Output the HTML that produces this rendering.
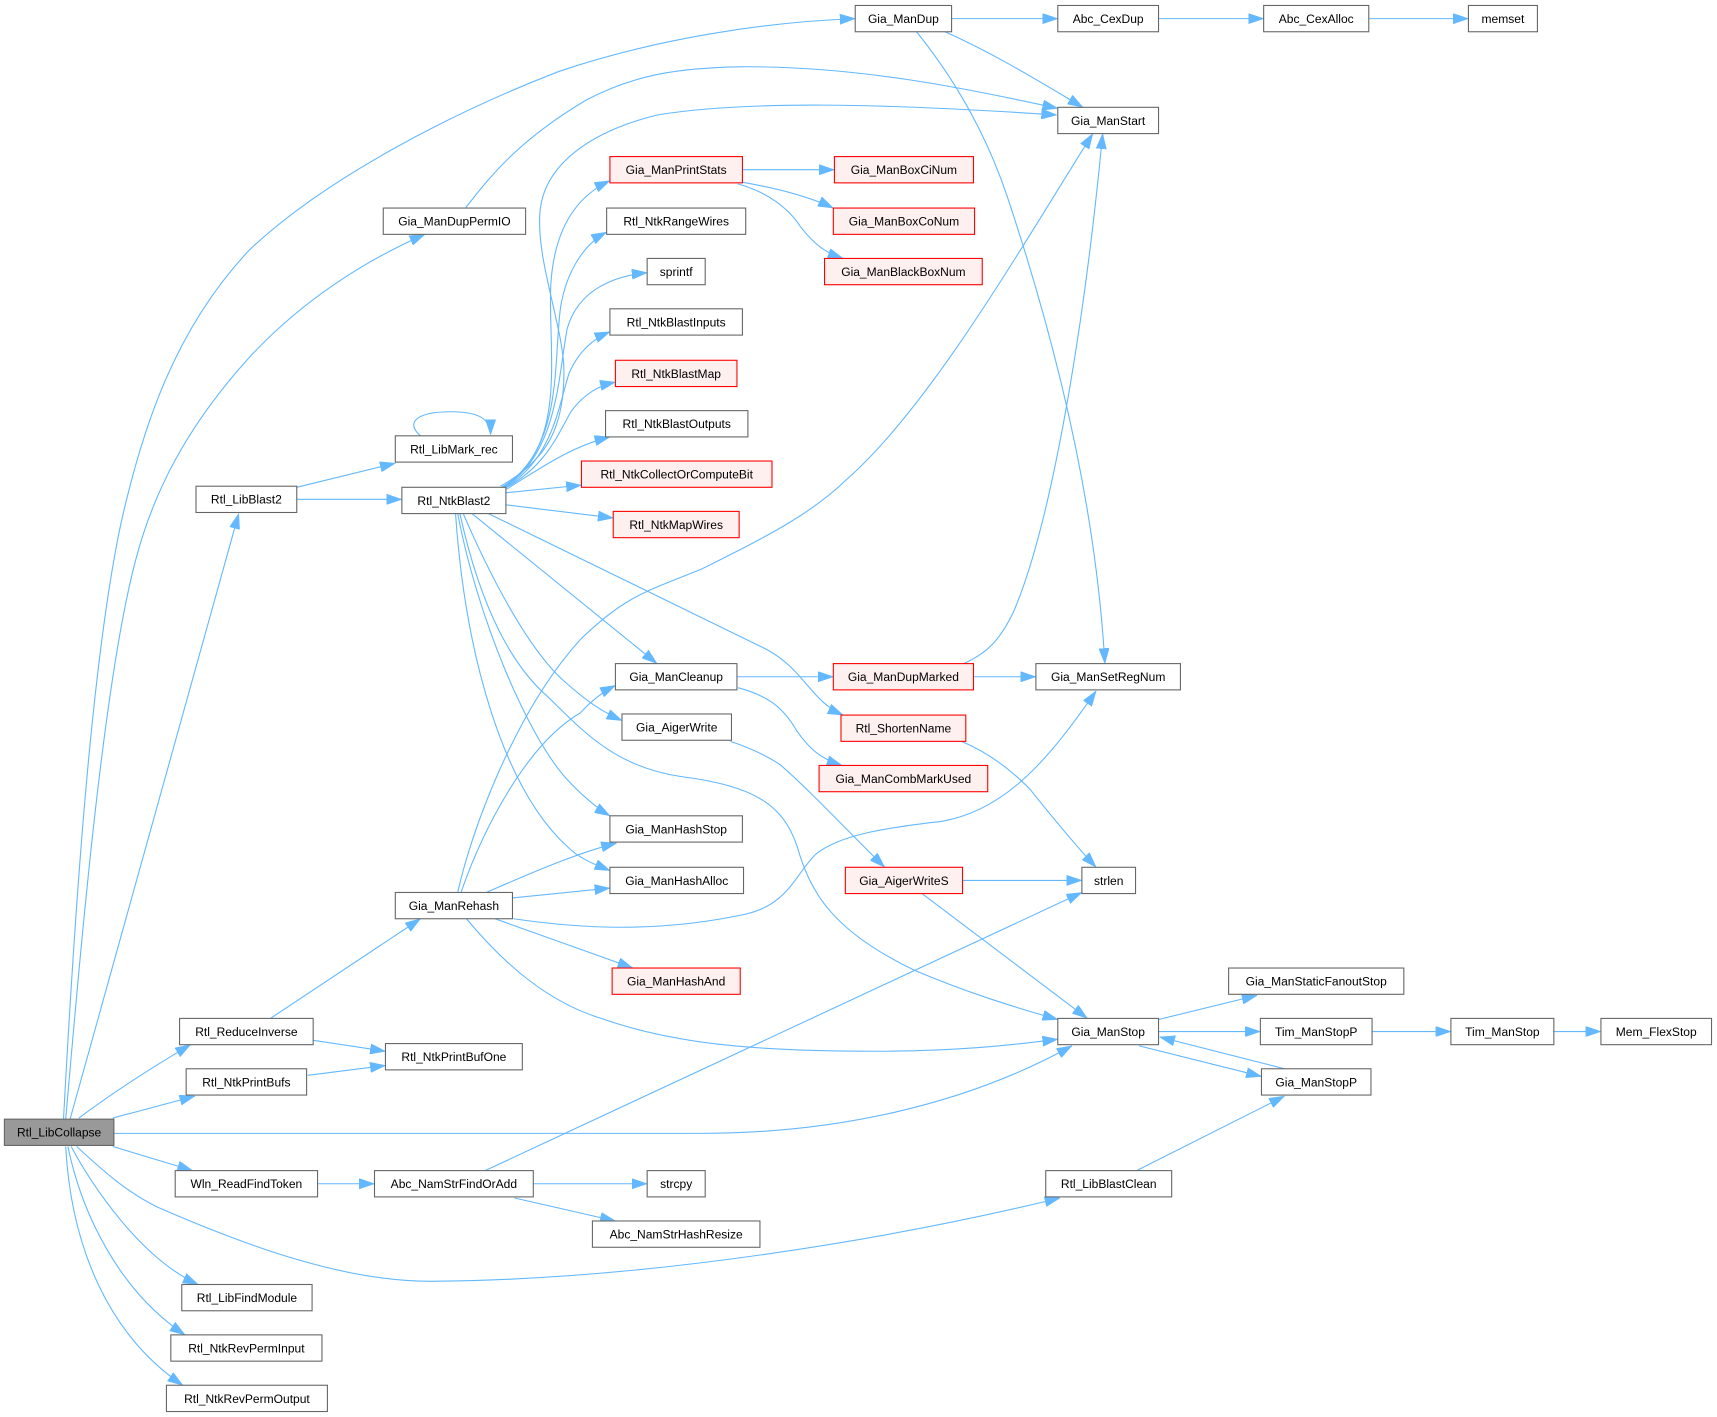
<!DOCTYPE html>
<html>
<head>
<meta charset="utf-8">
<style>
html,body{margin:0;padding:0;background:#fff;}
svg{display:block;}
text{font-family:"Liberation Sans",Arial,sans-serif;font-size:11px;fill:#000;text-anchor:middle;}
.n{fill:#fff;stroke:#666;stroke-width:1;}
.r{fill:#fff0f0;stroke:#ff0000;stroke-width:1;}
.g{fill:#999;stroke:#666;stroke-width:1;}
.e{fill:none;stroke:#63b8ff;stroke-width:1;marker-end:url(#ah);}
</style>
</head>
<body>
<svg width="1717" height="1417" viewBox="0 0 1568 1294" preserveAspectRatio="none" xmlns="http://www.w3.org/2000/svg">
<defs>
<marker id="ah" viewBox="0 0 14 9.5" refX="14" refY="4.75" markerWidth="14" markerHeight="9.5" markerUnits="userSpaceOnUse" orient="auto">
<path d="M0,0 L14,4.75 L0,9.5 Z" fill="#63b8ff" stroke="#63b8ff" stroke-width="0.5"/>
</marker>
</defs>

<!-- edges -->
<g>
<!-- from Rtl_LibCollapse -->
<path class="e" d="M58,1022 C70,800 85,600 110,480 C130,390 160,300 228,228 C300,160 420,100 511,65 C600,35 700,20 781,17"/>
<path class="e" d="M60,1022 C75,850 95,620 124,511 C140,450 170,390 228,326 C280,270 340,235 388,214"/>
<path class="e" d="M64,1022 L218,469"/>
<path class="e" d="M72,1021 C100,1000 130,980 174,954"/>
<path class="e" d="M103,1021 L178,1001"/>
<path class="e" d="M104,1035 L640,1035 C760,1035 880,1010 979,955"/>
<path class="e" d="M103,1047 L176,1069"/>
<path class="e" d="M70,1047 C95,1070 115,1088 143,1102 C230,1140 320,1172 400,1170 C600,1168 820,1130 968,1094"/>
<path class="e" d="M65,1047 C85,1085 130,1150 181,1173"/>
<path class="e" d="M62,1047 C75,1110 110,1180 169,1219"/>
<path class="e" d="M60,1047 C65,1140 100,1220 167,1265"/>

<!-- Rtl_LibBlast2 -->
<path class="e" d="M271,445 L361,423"/>
<path class="e" d="M271,456 L367,456"/>
<!-- self loop -->
<path class="e" d="M384,398 C370,386 380,376 412,376 C436,376 448,382 448,397"/>

<!-- Rtl_NtkBlast2 fan -->
<path class="e" d="M457,444 C500,420 515,390 515,340 C515,300 490,240 493,195 C496,150 540,120 600,105 C680,92 800,94 965,105"/>
<path class="e" d="M458,445 C520,410 500,320 503,260 C506,210 525,180 557,165"/>
<path class="e" d="M459,445 C515,410 505,330 512,280 C518,245 535,222 554,212"/>
<path class="e" d="M460,445 C510,415 510,340 518,300 C528,265 560,252 591,249"/>
<path class="e" d="M460,446 C505,420 510,370 520,340 C530,318 545,308 557,303"/>
<path class="e" d="M461,446 C500,425 510,395 522,375 C535,358 548,352 562,349"/>
<path class="e" d="M462,447 C490,430 520,408 557,399"/>
<path class="e" d="M462,450 L531,443"/>
<path class="e" d="M462,461 L560,473"/>
<path class="e" d="M431,469 L600,606"/>
<path class="e" d="M446,469 L700,593 C735,612 740,640 770,653"/>
<path class="e" d="M423,469 C445,520 480,590 514,621 C535,640 550,650 568,658"/>
<path class="e" d="M418,469 C435,560 480,670 518,712 C530,725 545,738 557,745"/>
<path class="e" d="M416,469 C425,600 460,720 518,773 C530,785 545,790 557,795"/>
<path class="e" d="M420,469 C440,560 470,610 500,636 C530,665 560,700 621,709 C690,718 715,735 728,773 C740,815 760,850 835,886 C880,905 920,918 966,931"/>

<!-- Gia_ManDupPermIO -> Gia_ManStart -->
<path class="e" d="M425,190 C445,165 470,130 536,91 C580,68 620,62 676,61 C780,60 880,80 966,99"/>

<!-- Gia_ManRehash -->
<path class="e" d="M418,815 C430,760 470,650 530,584 C570,545 590,540 640,520 C700,490 740,470 773,438 C850,370 930,230 998,122"/>
<path class="e" d="M421,815 C440,760 480,680 530,651 C540,640 550,632 562,626"/>
<path class="e" d="M444,815 C490,795 530,778 563,770"/>
<path class="e" d="M468,820 L557,811"/>
<path class="e" d="M452,839 L578,884"/>
<path class="e" d="M469,839 C530,848 600,852 680,835 C720,826 725,800 745,780 C770,760 820,755 860,750 C920,740 960,690 1001,631"/>
<path class="e" d="M426,839 C460,880 500,915 549,930 C620,955 700,960 800,960 C870,960 920,955 966,949"/>

<!-- Rtl_ReduceInverse / PrintBufs -->
<path class="e" d="M247,930 L384,839"/>
<path class="e" d="M286,950 L352,960"/>
<path class="e" d="M281,982 L352,973"/>

<!-- Wln / Abc_Nam -->
<path class="e" d="M290,1081 L342,1081"/>
<path class="e" d="M487,1081 L591,1081"/>
<path class="e" d="M470,1094 L562,1115"/>
<path class="e" d="M443,1069 L988,815"/>

<!-- Gia_ManDup -->
<path class="e" d="M869,17 L966,17"/>
<path class="e" d="M1058,17 L1154,17"/>
<path class="e" d="M1250,17 L1341,17"/>
<path class="e" d="M863,29 C910,50 950,75 989,98"/>
<path class="e" d="M837,29 C870,70 900,120 920,180 C960,300 1000,450 1009,606"/>

<!-- Gia_ManPrintStats -->
<path class="e" d="M678,155 L762,155"/>
<path class="e" d="M676,166 C710,172 740,180 761,190"/>
<path class="e" d="M674,168 C700,175 720,190 731,207 C745,225 755,231 770,236"/>

<!-- Gia_ManCleanup -->
<path class="e" d="M673,618 L761,618"/>
<path class="e" d="M674,628 C700,635 715,645 728,668 C740,685 750,693 769,699"/>

<!-- Gia_ManDupMarked -->
<path class="e" d="M889,618 L946,618"/>
<path class="e" d="M880,606 C905,595 915,580 925,560 C960,480 990,300 1007,122"/>

<!-- Rtl_ShortenName -> strlen -->
<path class="e" d="M878,677 C900,686 920,700 940,720 C960,745 985,775 1001,792"/>

<!-- Gia_AigerWrite -> Gia_AigerWriteS -->
<path class="e" d="M667,677 C685,683 700,690 712,698 C740,722 780,765 808,792"/>

<!-- Gia_AigerWriteS -->
<path class="e" d="M879,804 L988,804"/>
<path class="e" d="M842,816 L993,930"/>

<!-- Gia_ManStop -->
<path class="e" d="M1058,931 L1148,909"/>
<path class="e" d="M1058,942 L1151,942"/>
<path class="e" d="M1253,942 L1325,942"/>
<path class="e" d="M1419,942 L1462,942"/>
<path class="e" d="M1040,955 L1152,983"/>
<path class="e" d="M1173,976 L1059,947"/>
<path class="e" d="M1038,1069 L1173,1001"/>
</g>

<!-- nodes -->
<g>
<rect class="g" x="4" y="1022" width="100" height="24"/><text x="54" y="1038">Rtl_LibCollapse</text>
<rect class="n" x="781" y="5" width="88" height="24"/><text x="825" y="21">Gia_ManDup</text>
<rect class="n" x="966" y="5" width="92" height="24"/><text x="1012" y="21">Abc_CexDup</text>
<rect class="n" x="1154" y="5" width="96" height="24"/><text x="1202" y="21">Abc_CexAlloc</text>
<rect class="n" x="1341" y="5" width="63" height="24"/><text x="1372.5" y="21">memset</text>
<rect class="n" x="966" y="98" width="92" height="24"/><text x="1012" y="114">Gia_ManStart</text>
<rect class="n" x="350" y="190" width="130" height="24"/><text x="415" y="206">Gia_ManDupPermIO</text>
<rect class="r" x="557" y="143" width="121" height="24"/><text x="617.5" y="159">Gia_ManPrintStats</text>
<rect class="r" x="762" y="143" width="127" height="24"/><text x="825.5" y="159">Gia_ManBoxCiNum</text>
<rect class="r" x="761" y="190" width="129" height="24"/><text x="825.5" y="206">Gia_ManBoxCoNum</text>
<rect class="r" x="753" y="236" width="144" height="24"/><text x="825" y="252">Gia_ManBlackBoxNum</text>
<rect class="n" x="554" y="190" width="127" height="24"/><text x="617.5" y="206">Rtl_NtkRangeWires</text>
<rect class="n" x="591" y="236" width="53" height="24"/><text x="617.5" y="252">sprintf</text>
<rect class="n" x="557" y="282" width="121" height="24"/><text x="617.5" y="298">Rtl_NtkBlastInputs</text>
<rect class="r" x="562" y="329" width="111" height="24"/><text x="617.5" y="345">Rtl_NtkBlastMap</text>
<rect class="n" x="553" y="375" width="130" height="24"/><text x="618" y="391">Rtl_NtkBlastOutputs</text>
<rect class="r" x="531" y="421" width="174" height="24"/><text x="618" y="437">Rtl_NtkCollectOrComputeBit</text>
<rect class="r" x="560" y="467" width="115" height="24"/><text x="617.5" y="483">Rtl_NtkMapWires</text>
<rect class="n" x="361" y="398" width="107" height="24"/><text x="414.5" y="414">Rtl_LibMark_rec</text>
<rect class="n" x="179" y="444" width="92" height="24"/><text x="225" y="460">Rtl_LibBlast2</text>
<rect class="n" x="367" y="445" width="95" height="24"/><text x="414.5" y="461">Rtl_NtkBlast2</text>
<rect class="n" x="562" y="606" width="111" height="24"/><text x="617.5" y="622">Gia_ManCleanup</text>
<rect class="n" x="568" y="652" width="100" height="24"/><text x="618" y="668">Gia_AigerWrite</text>
<rect class="n" x="557" y="745" width="121" height="24"/><text x="617.5" y="761">Gia_ManHashStop</text>
<rect class="n" x="557" y="792" width="122" height="24"/><text x="618" y="808">Gia_ManHashAlloc</text>
<rect class="r" x="559" y="884" width="117" height="24"/><text x="617.5" y="900">Gia_ManHashAnd</text>
<rect class="n" x="361" y="815" width="107" height="24"/><text x="414.5" y="831">Gia_ManRehash</text>
<rect class="r" x="761" y="606" width="128" height="24"/><text x="825" y="622">Gia_ManDupMarked</text>
<rect class="n" x="946" y="606" width="132" height="24"/><text x="1012" y="622">Gia_ManSetRegNum</text>
<rect class="r" x="768" y="653" width="114" height="24"/><text x="825" y="669">Rtl_ShortenName</text>
<rect class="r" x="748" y="699" width="154" height="24"/><text x="825" y="715">Gia_ManCombMarkUsed</text>
<rect class="r" x="772" y="792" width="107" height="24"/><text x="825.5" y="808">Gia_AigerWriteS</text>
<rect class="n" x="988" y="792" width="49" height="24"/><text x="1012.5" y="808">strlen</text>
<rect class="n" x="1122" y="884" width="160" height="24"/><text x="1202" y="900">Gia_ManStaticFanoutStop</text>
<rect class="n" x="966" y="930" width="92" height="24"/><text x="1012" y="946">Gia_ManStop</text>
<rect class="n" x="1151" y="930" width="102" height="24"/><text x="1202" y="946">Tim_ManStopP</text>
<rect class="n" x="1325" y="930" width="94" height="24"/><text x="1372" y="946">Tim_ManStop</text>
<rect class="n" x="1462" y="930" width="101" height="24"/><text x="1512.5" y="946">Mem_FlexStop</text>
<rect class="n" x="1152" y="976" width="100" height="24"/><text x="1202" y="992">Gia_ManStopP</text>
<rect class="n" x="164" y="930" width="122" height="24"/><text x="225" y="946">Rtl_ReduceInverse</text>
<rect class="n" x="352" y="953" width="125" height="24"/><text x="414.5" y="969">Rtl_NtkPrintBufOne</text>
<rect class="n" x="170" y="976" width="110" height="24"/><text x="225" y="992">Rtl_NtkPrintBufs</text>
<rect class="n" x="160" y="1069" width="130" height="24"/><text x="225" y="1085">Wln_ReadFindToken</text>
<rect class="n" x="342" y="1069" width="145" height="24"/><text x="414.5" y="1085">Abc_NamStrFindOrAdd</text>
<rect class="n" x="591" y="1069" width="53" height="24"/><text x="617.5" y="1085">strcpy</text>
<rect class="n" x="541" y="1115" width="153" height="24"/><text x="617.5" y="1131">Abc_NamStrHashResize</text>
<rect class="n" x="955" y="1069" width="115" height="24"/><text x="1012.5" y="1085">Rtl_LibBlastClean</text>
<rect class="n" x="166" y="1173" width="119" height="24"/><text x="225.5" y="1189">Rtl_LibFindModule</text>
<rect class="n" x="156" y="1219" width="138" height="24"/><text x="225" y="1235">Rtl_NtkRevPermInput</text>
<rect class="n" x="152" y="1265" width="147" height="24"/><text x="225.5" y="1281">Rtl_NtkRevPermOutput</text>
</g>
</svg>
</body>
</html>
